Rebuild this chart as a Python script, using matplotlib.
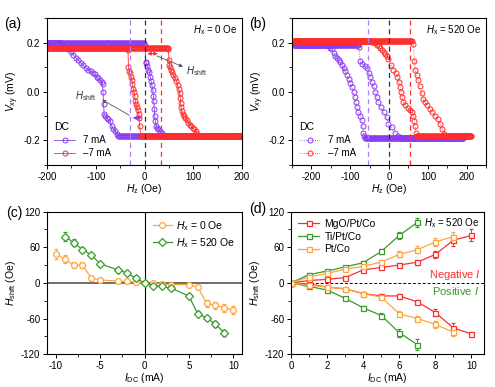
import numpy as np
import matplotlib.pyplot as plt
from matplotlib.ticker import MultipleLocator
from matplotlib.lines import Line2D

plt.rcParams['font.family'] = 'Liberation Sans'
plt.rcParams['mathtext.fontset'] = 'custom'
plt.rcParams['mathtext.rm'] = 'Liberation Sans'
plt.rcParams['mathtext.it'] = 'Liberation Sans:italic'
plt.rcParams['axes.unicode_minus'] = False
plt.rcParams['font.size'] = 7
plt.rcParams['axes.linewidth'] = 0.8
plt.rcParams['xtick.major.pad'] = 1.8
plt.rcParams['ytick.major.pad'] = 1.8

PURPLE = '#8a3cf0'
RED = '#ff2d2d'
ORANGE = '#ffa53a'
GREEN = '#3a9a2c'

# ---------------- (a) Hx = 0 Oe loops ----------------
# 7 mA: switching part of the up sweep and of the down sweep
a7_up_h = [1, 2, 4, 6, 8, 10, 12, 13, 15, 17, 18, 19, 20, 21, 22, 24, 26, 28, 31, 35, 38]
a7_up_v = [0.19, 0.12, 0.115, 0.105, 0.09, 0.08, 0.06, 0.045, 0.025, 0.008, -0.02, -0.04,
           -0.07, -0.1, -0.12, -0.14, -0.15, -0.155, -0.163, -0.17, -0.178]
a7_dn_h = [-54, -57, -60, -64, -67, -71, -75, -78, -81, -83, -84, -85, -86, -88, -91, -95,
           -98, -102, -105, -110, -115, -120, -126, -131, -136, -141, -146, -151, -156, -161,
           -166, -171]
a7_dn_v = [-0.18, -0.172, -0.163, -0.152, -0.142, -0.12, -0.114, -0.107, -0.1, -0.092,
           -0.05, 0.0, 0.032, 0.04, 0.046, 0.054, 0.06, 0.07, 0.074, 0.082, 0.088, 0.096,
           0.108, 0.118, 0.13, 0.138, 0.15, 0.16, 0.172, 0.18, 0.19, 0.2]
# -7 mA
am7_up_h = [49, 50, 51, 52, 54, 56, 59, 62, 65, 68, 70, 72, 73, 74, 75, 76, 78, 81, 84, 87,
            90, 93, 96, 99, 102, 105, 108, 111]
am7_up_v = [0.175, 0.13, 0.11, 0.1, 0.09, 0.08, 0.068, 0.055, 0.045, 0.025, 0.01, -0.005,
            -0.025, -0.045, -0.065, -0.08, -0.09, -0.1, -0.108, -0.118, -0.128, -0.135,
            -0.14, -0.148, -0.155, -0.163, -0.172, -0.18]
am7_dn_h = [-8, -10, -11, -12, -14, -16, -18, -19, -20, -22, -23, -25, -26, -28, -30, -31,
            -33, -34, -36]
am7_dn_v = [-0.18, -0.14, -0.11, -0.09, -0.075, -0.065, -0.05, -0.04, -0.02, 0.0, 0.012,
            0.03, 0.046, 0.06, 0.075, 0.085, 0.1, 0.17, 0.18]

# ---------------- (b) Hx = 520 Oe loops ----------------
b7_up_h = [-80, -78, -74, -70, -63, -57, -53, -49, -45, -40, -36, -32, -28, -22, -14, -6,
           -2, 7, 15, 24, 28]
b7_up_v = [0.19, 0.183, 0.123, 0.114, 0.105, 0.096, 0.077, 0.058, 0.04, 0.022, -0.002,
           -0.022, -0.043, -0.064, -0.085, -0.106, -0.133, -0.147, -0.168, -0.182, -0.19]
b7_dn_h = [-61.5, -64, -66, -68, -70, -74, -79, -83, -85.5, -89, -91.5, -96, -100, -104,
           -108.5, -113, -117, -121, -125.6, -130, -134, -138.5, -142.7, -147, -151, -156]
b7_dn_v = [-0.19, -0.182, -0.168, -0.14, -0.117, -0.099, -0.085, -0.064, -0.043, -0.022,
           -0.002, 0.017, 0.033, 0.051, 0.068, 0.082, 0.096, 0.11, 0.121, 0.13, 0.138,
           0.147, 0.158, 0.172, 0.18, 0.186]
bm7_up_h = [58, 62.6, 65, 67, 71, 75, 79.5, 84, 88, 92, 99, 105, 111, 118, 125, 131, 137,
            142, 146]
bm7_up_v = [0.205, 0.193, 0.123, 0.089, 0.068, 0.047, 0.022, -0.008, -0.029, -0.043,
            -0.057, -0.071, -0.085, -0.099, -0.113, -0.133, -0.154, -0.172, -0.182]
bm7_dn_h = [72, 71, 69, 66.7, 65.4, 62.8, 58.5, 54, 48, 41, 36.7, 34, 30.8, 28, 25.6, 21.6,
            17, 11, 5, -2, -6, -10, -14, -19, -23, -27, -32, -36, -40, -44, -48]
bm7_dn_v = [-0.182, -0.18, -0.168, -0.14, -0.12, -0.099, -0.085, -0.075, -0.067, -0.057,
            -0.043, -0.022, -0.002, 0.019, 0.04, 0.061, 0.075, 0.089, 0.11, 0.135, 0.145,
            0.155, 0.162, 0.17, 0.178, 0.185, 0.192, 0.197, 0.201, 0.204, 0.205]

# ---------------- (c) Hshift vs IDC ----------------
c_i0 = [-10, -9, -8, -7, -6, -5, -3, -2, -1, 0, 1, 2, 3, 5, 6, 7, 8, 9, 10]
c_h0 = [49, 40, 30, 30, 8, 5, 3, 2.5, 1.5, 0, -1, -2, -3, -3, -7, -34, -38, -42, -46]
c_e0 = [8, 7, 5, 5, 4, 3, 2, 2, 2, 1, 2, 2, 2, 2, 3, 6, 6, 7, 7]
c_i520 = [-9, -8, -7, -6, -5, -3, -2, -1, 0, 1, 2, 3, 5, 6, 7, 8, 9]
c_h520 = [78, 68, 56, 47, 32, 22, 17, 8, 0, -4.5, -6, -9, -22, -52, -59, -70, -84]
c_e520 = [7, 6, 4, 4, 4, 3, 3, 3, 1, 2, 2, 2, 3, 4, 4, 5, 5]

# ---------------- (d) Hshift vs IDC, three stacks ----------------
d_i10 = [0, 1, 2, 3, 4, 5, 6, 7, 8, 9, 10]
d_i7 = [0, 1, 2, 3, 4, 5, 6, 7]
d_i9 = [0, 1, 2, 3, 4, 5, 6, 7, 8, 9]
mgo_neg = [0, 4, 6, 9, 22, 26, 30, 35, 48, 72, 80]
mgo_neg_e = [0, 2, 2, 3, 3, 3, 3, 4, 6, 9, 10]
mgo_pos = [0, -2, -7, -10, -18, -22, -22, -32, -50, -76, -86]
mgo_pos_e = [0, 2, 2, 2, 3, 3, 3, 4, 6, 8, 3]
ti_neg = [0, 14, 20, 27, 34, 53, 80, 102]
ti_neg_e = [0, 2, 2, 2, 3, 4, 6, 8]
ti_pos = [0, -6, -12, -26, -42, -55, -84, -104]
ti_pos_e = [0, 2, 2, 3, 3, 4, 7, 9]
pt_neg = [0, 10, 16, 23, 28, 35, 48, 56, 69, 78]
pt_neg_e = [0, 2, 2, 3, 3, 3, 5, 6, 7, 8]
pt_pos = [0, -4, -7, -10, -18, -24, -52, -60, -70, -83]
pt_pos_e = [0, 2, 2, 2, 3, 3, 4, 5, 6, 7]


def flat(h0, h1, v, step=2):
    # saturated plateau of a field sweep
    h = np.arange(h0, h1, step if h1 > h0 else -step)
    return list(h), [v] * len(h)


def loop(parts):
    h, v = [], []
    for ph, pv in parts:
        h += list(ph)
        v += list(pv)
    return h, v


def mk(ax, h, v, color, ls='-', label=None):
    ax.plot(h, v, ls, color=color, lw=0.6, marker='o', ms=3.6, mfc='none',
            mec=color, mew=0.7, label=label)


def ticks(ax, xmaj, xmin, ymaj, ymin):
    ax.xaxis.set_major_locator(MultipleLocator(xmaj))
    ax.xaxis.set_minor_locator(MultipleLocator(xmin))
    ax.yaxis.set_major_locator(MultipleLocator(ymaj))
    ax.yaxis.set_minor_locator(MultipleLocator(ymin))
    ax.tick_params(which='major', length=3, width=0.7, labelsize=7)
    ax.tick_params(which='minor', length=2, width=0.6)


def style_loop(ax, xlim):
    ax.set_xlim(*xlim)
    ax.set_ylim(-0.3, 0.3)
    ticks(ax, 100, 50, 0.2, 0.1)
    ax.yaxis.set_major_formatter(plt.FormatStrFormatter('%.1f'))
    ax.set_xlabel(r'$H_{\mathrm{z}}$ (Oe)', fontsize=7.5, labelpad=0.5)
    ax.set_ylabel(r'$V_{\mathrm{xy}}$ (mV)', fontsize=7.5, labelpad=2)


fig = plt.figure(figsize=(4.95, 3.87), dpi=100)

# ---- (a)
ax = fig.add_axes([0.095, 0.574, 0.394, 0.379])
p7 = loop([flat(-200, 0, 0.2), (a7_up_h, a7_up_v), flat(40, 201, -0.18),
           flat(200, -53, -0.18), (a7_dn_h, a7_dn_v), flat(-172, -201, 0.2)])
pm7 = loop([flat(-200, 49, 0.18), (am7_up_h, am7_up_v), flat(112, 201, -0.18),
            flat(200, -7, -0.18), (am7_dn_h, am7_dn_v), flat(-37, -201, 0.18)])
mk(ax, *p7, PURPLE, label='7 mA')
mk(ax, *pm7, RED, label='–7 mA')
ax.axvline(-30, color='#b07cff', ls=(0, (4, 3)), lw=0.9)
ax.axvline(0, color='#333333', ls=(0, (4, 3)), lw=0.9)
ax.axvline(33, color=RED, ls=(0, (4, 3)), lw=0.9)
ax.annotate('', xy=(0, 0.155), xytext=(33, 0.155),
            arrowprops=dict(arrowstyle='<|-|>', color=RED, lw=0.8, mutation_scale=5))
ax.annotate('', xy=(-30, -0.108), xytext=(0, -0.108),
            arrowprops=dict(arrowstyle='<|-|>', color=PURPLE, lw=0.8, mutation_scale=5))
ax.text(86, 0.072, r'$H_{\mathrm{shift}}$', fontsize=7, color='#333333')
ax.annotate('', xy=(84, 0.097), xytext=(20, 0.15),
            arrowprops=dict(arrowstyle='-|>', color='#555555', lw=0.6, mutation_scale=5))
ax.text(-143, -0.03, r'$H_{\mathrm{shift}}$', fontsize=7, color='#333333')
ax.annotate('', xy=(-92, -0.028), xytext=(-26, -0.103),
            arrowprops=dict(arrowstyle='-|>', color='#555555', lw=0.6, mutation_scale=5))
ax.text(0.975, 0.965, r'$H_{\mathrm{x}}$ = 0 Oe', transform=ax.transAxes,
        ha='right', va='top', fontsize=7)
style_loop(ax, (-200, 200))
ax.legend(loc='lower left', frameon=False, title='DC', fontsize=7,
          title_fontsize=7.5, handlelength=2.2, borderaxespad=0.3,
          labelspacing=0.3, alignment='left')
fig.text(0.008, 0.938, '(a)', fontsize=10, va='center')

# ---- (b)
ax = fig.add_axes([0.590, 0.574, 0.392, 0.379])
q7 = loop([flat(-245, -80, 0.19), (b7_up_h, b7_up_v), flat(30, 191, -0.19),
           flat(190, -61, -0.19), (b7_dn_h, b7_dn_v), flat(-158, -246, 0.19)])
qm7 = loop([flat(-245, 58, 0.205), (bm7_up_h, bm7_up_v), flat(148, 211, -0.182),
            flat(210, 72, -0.182), (bm7_dn_h, bm7_dn_v), flat(-50, -246, 0.205)])
mk(ax, *q7, PURPLE, ls=':', label='7 mA')
mk(ax, *qm7, RED, ls=':', label='–7 mA')
ax.axvline(-55, color='#b07cff', ls=(0, (4, 3)), lw=0.9)
ax.axvline(0, color='#333333', ls=(0, (4, 3)), lw=0.9)
ax.axvline(55, color=RED, ls=(0, (4, 3)), lw=0.9)
ax.text(0.975, 0.965, r'$H_{\mathrm{x}}$ = 520 Oe', transform=ax.transAxes,
        ha='right', va='top', fontsize=7)
style_loop(ax, (-250, 250))
ax.legend(loc='lower left', frameon=False, title='DC', fontsize=7,
          title_fontsize=7.5, handlelength=2.2, borderaxespad=0.3,
          labelspacing=0.3, alignment='left')
fig.text(0.503, 0.938, '(b)', fontsize=10, va='center')

# ---- (c)
ax = fig.add_axes([0.095, 0.085, 0.394, 0.368])
ax.axhline(0, color='#555555', lw=1.2, zorder=1)
ax.axvline(0, color='black', lw=0.8, zorder=1)
st0 = dict(color=ORANGE, lw=0.9, marker='o', ms=4.2, mfc='white', mec=ORANGE, mew=0.9)
st5 = dict(color=GREEN, lw=0.9, marker='D', ms=3.8, mfc='white', mec=GREEN, mew=0.9)
ax.errorbar(c_i0, c_h0, yerr=c_e0, elinewidth=0.7, capsize=1.5, **st0)
ax.errorbar(c_i520, c_h520, yerr=c_e520, elinewidth=0.7, capsize=1.5, **st5)
ax.set_xlim(-11, 11)
ax.set_ylim(-120, 120)
ticks(ax, 5, 2.5, 60, 30)
ax.set_xlabel(r'$I_{\mathrm{DC}}$ (mA)', fontsize=7.5, labelpad=0)
ax.set_ylabel(r'$H_{\mathrm{shift}}$ (Oe)', fontsize=7.5, labelpad=2)
ax.legend([Line2D([], [], **st0), Line2D([], [], **st5)],
          [r'$H_{\mathrm{x}}$ = 0 Oe', r'$H_{\mathrm{x}}$ = 520 Oe'],
          loc='upper right', frameon=False, fontsize=7.5, handlelength=1.8,
          borderaxespad=0.3, labelspacing=0.3, handletextpad=0.4)
fig.text(0.012, 0.45, '(c)', fontsize=10, va='center')

# ---- (d)
ax = fig.add_axes([0.588, 0.085, 0.390, 0.368])
ax.axhline(0, color='black', ls=(0, (3, 2)), lw=0.7, zorder=1)
base = dict(lw=0.9, marker='s', ms=3.6, mfc='white', mew=0.9)
eb = dict(elinewidth=0.7, capsize=1.5, **base)
ax.errorbar(d_i10, mgo_neg, yerr=mgo_neg_e, color=RED, mec=RED, **eb)
ax.errorbar(d_i10, mgo_pos, yerr=mgo_pos_e, color=RED, mec=RED, **eb)
ax.errorbar(d_i7, ti_neg, yerr=ti_neg_e, color=GREEN, mec=GREEN, **eb)
ax.errorbar(d_i7, ti_pos, yerr=ti_pos_e, color=GREEN, mec=GREEN, **eb)
ax.errorbar(d_i9, pt_neg, yerr=pt_neg_e, color=ORANGE, mec=ORANGE, **eb)
ax.errorbar(d_i9, pt_pos, yerr=pt_pos_e, color=ORANGE, mec=ORANGE, **eb)
ax.set_xlim(0, 10.7)
ax.set_ylim(-120, 120)
ticks(ax, 2, 1, 60, 30)
ax.set_xlabel(r'$I_{\mathrm{DC}}$ (mA)', fontsize=7.5, labelpad=0)
ax.set_ylabel(r'$H_{\mathrm{shift}}$ (Oe)', fontsize=7.5, labelpad=2)
handles = [Line2D([], [], color=c, mec=c, **base) for c in (RED, GREEN, ORANGE)]
ax.legend(handles, ['MgO/Pt/Co', 'Ti/Pt/Co', 'Pt/Co'], loc='upper left',
          frameon=False, fontsize=7.5, handlelength=2.0, borderaxespad=0.3,
          labelspacing=0.25, handletextpad=0.5)
ax.text(0.975, 0.965, r'$H_{\mathrm{x}}$ = 520 Oe', transform=ax.transAxes,
        ha='right', va='top', fontsize=7)
ax.text(10.5, 14, r'Negative $I$', color=RED, ha='right', va='center', fontsize=8)
ax.text(10.4, -14, r'Positive $I$', color=GREEN, ha='right', va='center', fontsize=8)
fig.text(0.503, 0.46, '(d)', fontsize=10, va='center')

fig.savefig('out.png', dpi=100)
